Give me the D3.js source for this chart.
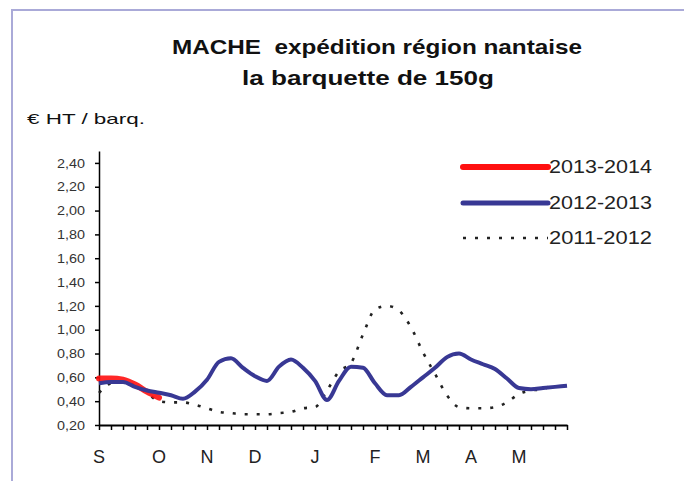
<!DOCTYPE html>
<html>
<head>
<meta charset="utf-8">
<script src="https://cdn.jsdelivr.net/npm/d3@7"></script>
<style>
  body { margin: 0; background: #fff; }
  svg { display: block; font-family: "Liberation Sans", Arial, sans-serif; }
  .keep { white-space: pre; }
</style>
</head>
<body>
<script>
// month labels and the week index where each one sits
const months = ["S", "O", "N", "D", "J", "F", "M", "A", "M"];
const monthWeek = [0, 5, 9, 13, 18, 23, 27, 31, 35];
const nWeeks = 39;

const yTicks = [0.2, 0.4, 0.6, 0.8, 1.0, 1.2, 1.4, 1.6, 1.8, 2.0, 2.2, 2.4];

// weekly prices, € HT / barquette
const s1314 = [0.59, 0.59, 0.58, 0.54, 0.48, 0.43];
const s1213 = [0.55, 0.56, 0.56, 0.52, 0.49, 0.47, 0.45, 0.42, 0.48, 0.58,
               0.73, 0.76, 0.68, 0.61, 0.57, 0.69, 0.75, 0.68, 0.57, 0.41,
               0.57, 0.69, 0.68, 0.55, 0.45, 0.45, 0.52, 0.60, 0.68, 0.77,
               0.80, 0.75, 0.71, 0.67, 0.59, 0.51, 0.50, 0.51, 0.52, 0.53];
const s1112 = [0.47, 0.55, 0.56, 0.53, 0.47, 0.40, 0.39, 0.39, 0.37, 0.34,
               0.31, 0.30, 0.29, 0.29, 0.29, 0.30, 0.31, 0.34, 0.35, 0.49,
               0.65, 0.72, 0.96, 1.17, 1.20, 1.16, 1.02, 0.81, 0.63, 0.45,
               0.35, 0.34, 0.34, 0.35, 0.39, 0.46, 0.49, 0.50, 0.56];

const legendNames = ["2013-2014", "2012-2013", "2011-2012"];

const W = 684, H = 481;
const svg = d3.select("body").append("svg").attr("width", W).attr("height", H);

// frame
svg.append("path")
  .attr("d", "M12,481 L12,10 L684,10")
  .attr("fill", "none")
  .attr("stroke", "#aaaad8")
  .attr("stroke-width", 2);

// titles
svg.append("text").attr("class", "keep").attr("x", 172).attr("y", 54)
  .attr("font-size", 21).attr("font-weight", "bold").attr("fill", "#111")
  .attr("textLength", 410).attr("lengthAdjust", "spacingAndGlyphs")
  .text("MACHE  expédition région nantaise");
svg.append("text").attr("x", 242).attr("y", 85)
  .attr("font-size", 21).attr("font-weight", "bold").attr("fill", "#111")
  .attr("textLength", 252).attr("lengthAdjust", "spacingAndGlyphs")
  .text("la barquette de 150g");
svg.append("text").attr("x", 27).attr("y", 124)
  .attr("font-size", 15).attr("fill", "#111")
  .attr("textLength", 118).attr("lengthAdjust", "spacingAndGlyphs")
  .text("€ HT / barq.");

const x = d3.scaleLinear().domain([0, nWeeks]).range([99, 567]);
const y = d3.scaleLinear().domain([0.2, 2.5]).range([425, 151]);

const yAxis = svg.append("g")
  .attr("transform", "translate(99,0)")
  .call(d3.axisLeft(y).tickValues(yTicks).tickSize(4).tickSizeOuter(0)
    .tickFormat(d => d3.format(".2f")(d).replace(".", ",")));
yAxis.select(".domain").attr("stroke", "#000").attr("stroke-width", 1.5);
yAxis.selectAll(".tick line").attr("stroke", "#000").attr("stroke-width", 1.5);
yAxis.selectAll(".tick text")
  .attr("x", -14).attr("font-size", 13).attr("fill", "#333")
  .attr("font-family", "Liberation Sans, Arial, sans-serif")
  .attr("textLength", 28).attr("lengthAdjust", "spacingAndGlyphs");

const xAxis = svg.append("g")
  .attr("transform", "translate(0,425)")
  .call(d3.axisBottom(x).tickValues(d3.range(0, nWeeks + 1)).tickSize(5)
    .tickSizeOuter(0).tickFormat(""));
xAxis.select(".domain").attr("stroke", "#000").attr("stroke-width", 1.8);
xAxis.selectAll(".tick line").attr("stroke", "#000").attr("stroke-width", 1.5);

svg.selectAll(".month")
  .data(months)
  .enter()
  .append("text")
  .attr("class", "month")
  .attr("x", (d, i) => x(monthWeek[i]))
  .attr("y", 463)
  .attr("text-anchor", "middle")
  .attr("font-size", 18)
  .attr("fill", "#222")
  .text(d => d);

const smooth = d3.line().x((d, i) => x(i)).y(d => y(d)).curve(d3.curveMonotoneX);

svg.append("path").datum(s1112)
  .attr("d", smooth).attr("fill", "none")
  .attr("stroke", "#222").attr("stroke-width", 2.6)
  .attr("stroke-dasharray", "3,9");

svg.append("path").datum(s1314)
  .attr("d", smooth).attr("fill", "none")
  .attr("stroke", "#ff1010").attr("stroke-width", 6)
  .attr("stroke-linejoin", "round").attr("stroke-linecap", "round")
  .attr("opacity", 0.9);

svg.append("path").datum(s1213)
  .attr("d", smooth).attr("fill", "none")
  .attr("stroke", "#383894").attr("stroke-width", 4)
  .attr("stroke-linejoin", "round");

// legend
const legY = [167, 203, 238];
const legend = svg.selectAll(".leg")
  .data(legendNames)
  .enter()
  .append("g")
  .attr("class", "leg")
  .attr("transform", (d, i) => `translate(0,${legY[i]})`);

legend.append("line")
  .attr("x1", 463).attr("x2", 548)
  .attr("stroke", (d, i) => ["#ff1010", "#383894", "#222"][i])
  .attr("stroke-width", (d, i) => [6, 5, 2.6][i])
  .attr("stroke-linecap", (d, i) => i < 2 ? "round" : "butt")
  .attr("stroke-dasharray", (d, i) => i === 2 ? "3,9" : null);

legend.append("text")
  .attr("x", 549).attr("y", 6)
  .attr("font-size", 18).attr("fill", "#222")
  .attr("textLength", 103).attr("lengthAdjust", "spacingAndGlyphs")
  .text(d => d);
</script>
</body>
</html>
